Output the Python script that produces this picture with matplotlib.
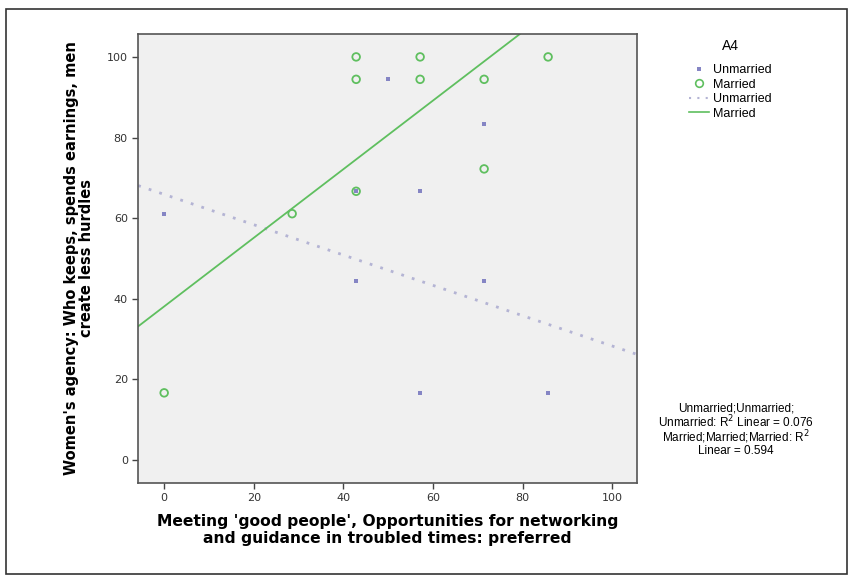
import matplotlib
matplotlib.use("Agg")
import matplotlib.pyplot as plt
from matplotlib.lines import Line2D
from matplotlib.patches import Rectangle

# Unmarried respondents
unm_x = [0, 50.0, 57.14, 71.43, 42.86, 71.43, 57.14, 85.71, 42.86]
unm_y = [61.11, 94.44, 66.67, 83.33, 44.44, 44.44, 16.67, 16.67, 66.67]

# Married respondents
mar_x = [42.86, 57.14, 85.71, 42.86, 57.14, 71.43, 42.86, 71.43, 28.57, 0]
mar_y = [100, 100, 100, 94.44, 94.44, 94.44, 66.67, 72.22, 61.11, 16.67]

# linear fits (intercept, slope) as shown in the chart
unm_fit = (65.9, -0.376)
mar_fit = (38.1, 0.851)

ticks = [0, 20, 40, 60, 80, 100]

c_unm = '#8585c4'
c_mar = '#5fbf5f'
c_unm_line = '#b4b4d4'

fig = plt.figure(figsize=(8.53, 5.78), dpi=100)
fig.patches.append(Rectangle((6 / 853, 1 - 574 / 578), 841 / 853, 565 / 578,
                             transform=fig.transFigure, fill=False,
                             edgecolor='#333333', linewidth=1.2))

ax = fig.add_axes([0.162, 0.165, 0.585, 0.777])
ax.set_facecolor('#f0f0f0')
xlim = (-5.8, 105.6)
ylim = (-5.6, 105.8)
ax.set_xlim(xlim)
ax.set_ylim(ylim)

# fit lines
xs = list(xlim)
ax.plot(xs, [unm_fit[0] + unm_fit[1] * v for v in xs], color=c_unm_line,
        linestyle=(0, (1, 3)), linewidth=2.0, zorder=2)
ax.plot(xs, [mar_fit[0] + mar_fit[1] * v for v in xs], color=c_mar,
        linewidth=1.3, zorder=2)

ax.scatter(mar_x, mar_y, s=30, facecolors='none', edgecolors=c_mar,
           linewidths=1.3, zorder=3)
ax.scatter(unm_x, unm_y, s=8, marker='s', color=c_unm, linewidths=0, zorder=4)

for s in ax.spines.values():
    s.set_color('#555555')
    s.set_linewidth(1.2)
ax.set_xticks(ticks)
ax.set_yticks(ticks)
ax.tick_params(direction='out', length=4, width=1, color='#444444',
               labelsize=8, labelcolor='#333333')

ax.set_xlabel("Meeting 'good people', Opportunities for networking\n"
              "and guidance in troubled times: preferred",
              fontsize=11.2, fontweight='bold', labelpad=8, linespacing=1.15,
              family=['DejaVu Sans'])
ax.set_ylabel("Women's agency: Who keeps, spends earnings, men\n"
              "create less hurdles",
              fontsize=10.5, fontweight='bold', labelpad=9, linespacing=1.05,
              family=['DejaVu Sans'])

handles = [
    Line2D([], [], linestyle='none', marker='s', markersize=2.5,
           color=c_unm, markeredgewidth=0),
    Line2D([], [], linestyle='none', marker='o', markersize=5.5,
           markerfacecolor='none', markeredgecolor=c_mar, markeredgewidth=1.2),
    Line2D([], [], color=c_unm_line, linestyle=(0, (1, 3)), linewidth=1.5),
    Line2D([], [], color=c_mar, linewidth=1.2),
]
leg = fig.legend(handles, ['Unmarried', 'Married', 'Unmarried', 'Married'],
                 title='A4', loc='upper left',
                 bbox_to_anchor=(678 / 853, 1 - 28 / 578), frameon=False,
                 handlelength=1.6, handletextpad=0.3, labelspacing=0.2,
                 prop={'family': 'Liberation Sans', 'size': 9})
leg.get_title().set_fontsize(10)
leg.get_title().set_family('Liberation Sans')
leg._legend_box.sep = 8

fig.text(736 / 853, 1 - 430 / 578,
         "Unmarried;Unmarried;\nUnmarried: R$^2$ Linear = 0.076\n"
         "Married;Married;Married: R$^2$\nLinear = 0.594",
         ha='center', va='center', fontsize=8.5, family='Liberation Sans',
         linespacing=0.9)

fig.savefig('out.png', dpi=100)
